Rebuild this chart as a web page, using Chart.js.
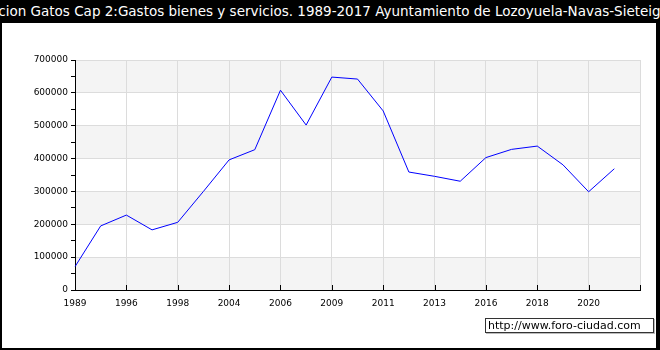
<!DOCTYPE html>
<html>
<head>
<meta charset="utf-8">
<script src="https://cdn.jsdelivr.net/npm/chart.js@4"></script>
<style>
  body { margin: 0; background: #000; width: 660px; height: 350px; overflow: hidden; position: relative; font-family: "DejaVu Sans", sans-serif; }
  #title { position: absolute; top: 0; left: 50%; transform: translateX(-50%); white-space: nowrap; color: #fff; font-size: 13.5px; line-height: 22px; }
  #panel { position: absolute; left: 2px; top: 23px; width: 654px; height: 325px; background: #fff; }
  #credit { position: absolute; left: 485px; top: 318px; width: 165px; height: 13px; padding-left: 2px; border: 1px solid #333; background: #fff; box-shadow: 1px 1px 0 #bbb; font-size: 11px; line-height: 13px; color: #000; }
</style>
</head>
<body>
<div id="title">Evolucion Gatos Cap 2:Gastos bienes y servicios. 1989-2017 Ayuntamiento de Lozoyuela-Navas-Sieteiglesias</div>
<div id="panel"><canvas id="chart" width="654" height="325"></canvas></div>
<div id="credit">http://www.foro-ciudad.com</div>
<script>
// years on the x axis (only every other one gets a label, last slot is empty)
const years = ["1989", "1995", "1996", "1997", "1998", "2003", "2004", "2005", "2006", "2008", "2009",
               "2010", "2011", "2012", "2013", "2015", "2016", "2017", "2018", "2019", "2020", "2021", ""];

// gastos bienes y servicios (euros)
const gastos = [71000, 195000, 228000, 183000, 206000, 300000, 396000, 427000, 608000, 502000, 648000,
                642000, 545000, 359000, 346000, 331000, 403000, 428000, 438000, 381000, 299000, 369000];

const yMin = 0;
const yMax = 700000;
const yStep = 50000;

// alternating grey / white bands behind the grid
const bands = {
  id: "bands",
  beforeDraw(chart) {
    const { ctx, chartArea, scales } = chart;
    ctx.save();
    ctx.fillStyle = "#f4f4f4";
    for (let v = yMin; v < yMax; v += 200000) {
      const top = scales.y.getPixelForValue(v + 100000);
      const bottom = scales.y.getPixelForValue(v);
      ctx.fillRect(chartArea.left, top, chartArea.right - chartArea.left, bottom - top);
    }
    ctx.restore();
  }
};

// small tick marks pointing up into the plot on the x axis
const xTicks = {
  id: "xTicks",
  afterDatasetsDraw(chart) {
    const { ctx, chartArea, scales } = chart;
    ctx.save();
    ctx.strokeStyle = "#000";
    ctx.lineWidth = 1;
    ctx.beginPath();
    for (let i = 0; i < years.length; i += 2) {
      const x = Math.round(scales.x.getPixelForValue(i)) + 0.5;
      ctx.moveTo(x, chartArea.bottom);
      ctx.lineTo(x, chartArea.bottom - 5);
    }
    ctx.stroke();
    ctx.restore();
  }
};

const tickFont = { family: "DejaVu Sans", size: 9 };

new Chart(document.getElementById("chart"), {
  type: "line",
  data: {
    labels: years,
    datasets: [{
      data: gastos,
      borderColor: "#0000ff",
      borderWidth: 1,
      pointRadius: 0,
      tension: 0,
      fill: false
    }]
  },
  options: {
    responsive: false,
    animation: false,
    events: [],
    plugins: { legend: { display: false }, tooltip: { enabled: false } },
    layout: { padding: { left: 0, top: 37, right: 16, bottom: 0 } },
    scales: {
      x: {
        grid: { color: (c) => (c.index % 2 ? "transparent" : "#dcdcdc"), drawTicks: false },
        border: { color: "#000" },
        ticks: {
          autoSkip: false, maxRotation: 0, padding: 8, color: "#000", font: tickFont,
          callback: (v, i) => (i % 2 === 0 ? years[i] : "")
        },
        afterFit: (s) => { s.height = 58; }
      },
      y: {
        min: yMin,
        max: yMax,
        grid: {
          color: (c) => (c.tick && c.tick.value % 100000 === 0 ? "#dcdcdc" : "transparent"),
          tickColor: "#000",
          tickLength: 4
        },
        border: { color: "#000" },
        ticks: {
          stepSize: yStep, padding: 3, color: "#000", font: tickFont,
          callback: (v) => (v % 100000 === 0 ? String(v) : "")
        },
        afterFit: (s) => { s.width = 73; }
      }
    }
  },
  plugins: [bands, xTicks]
});
</script>
</body>
</html>
